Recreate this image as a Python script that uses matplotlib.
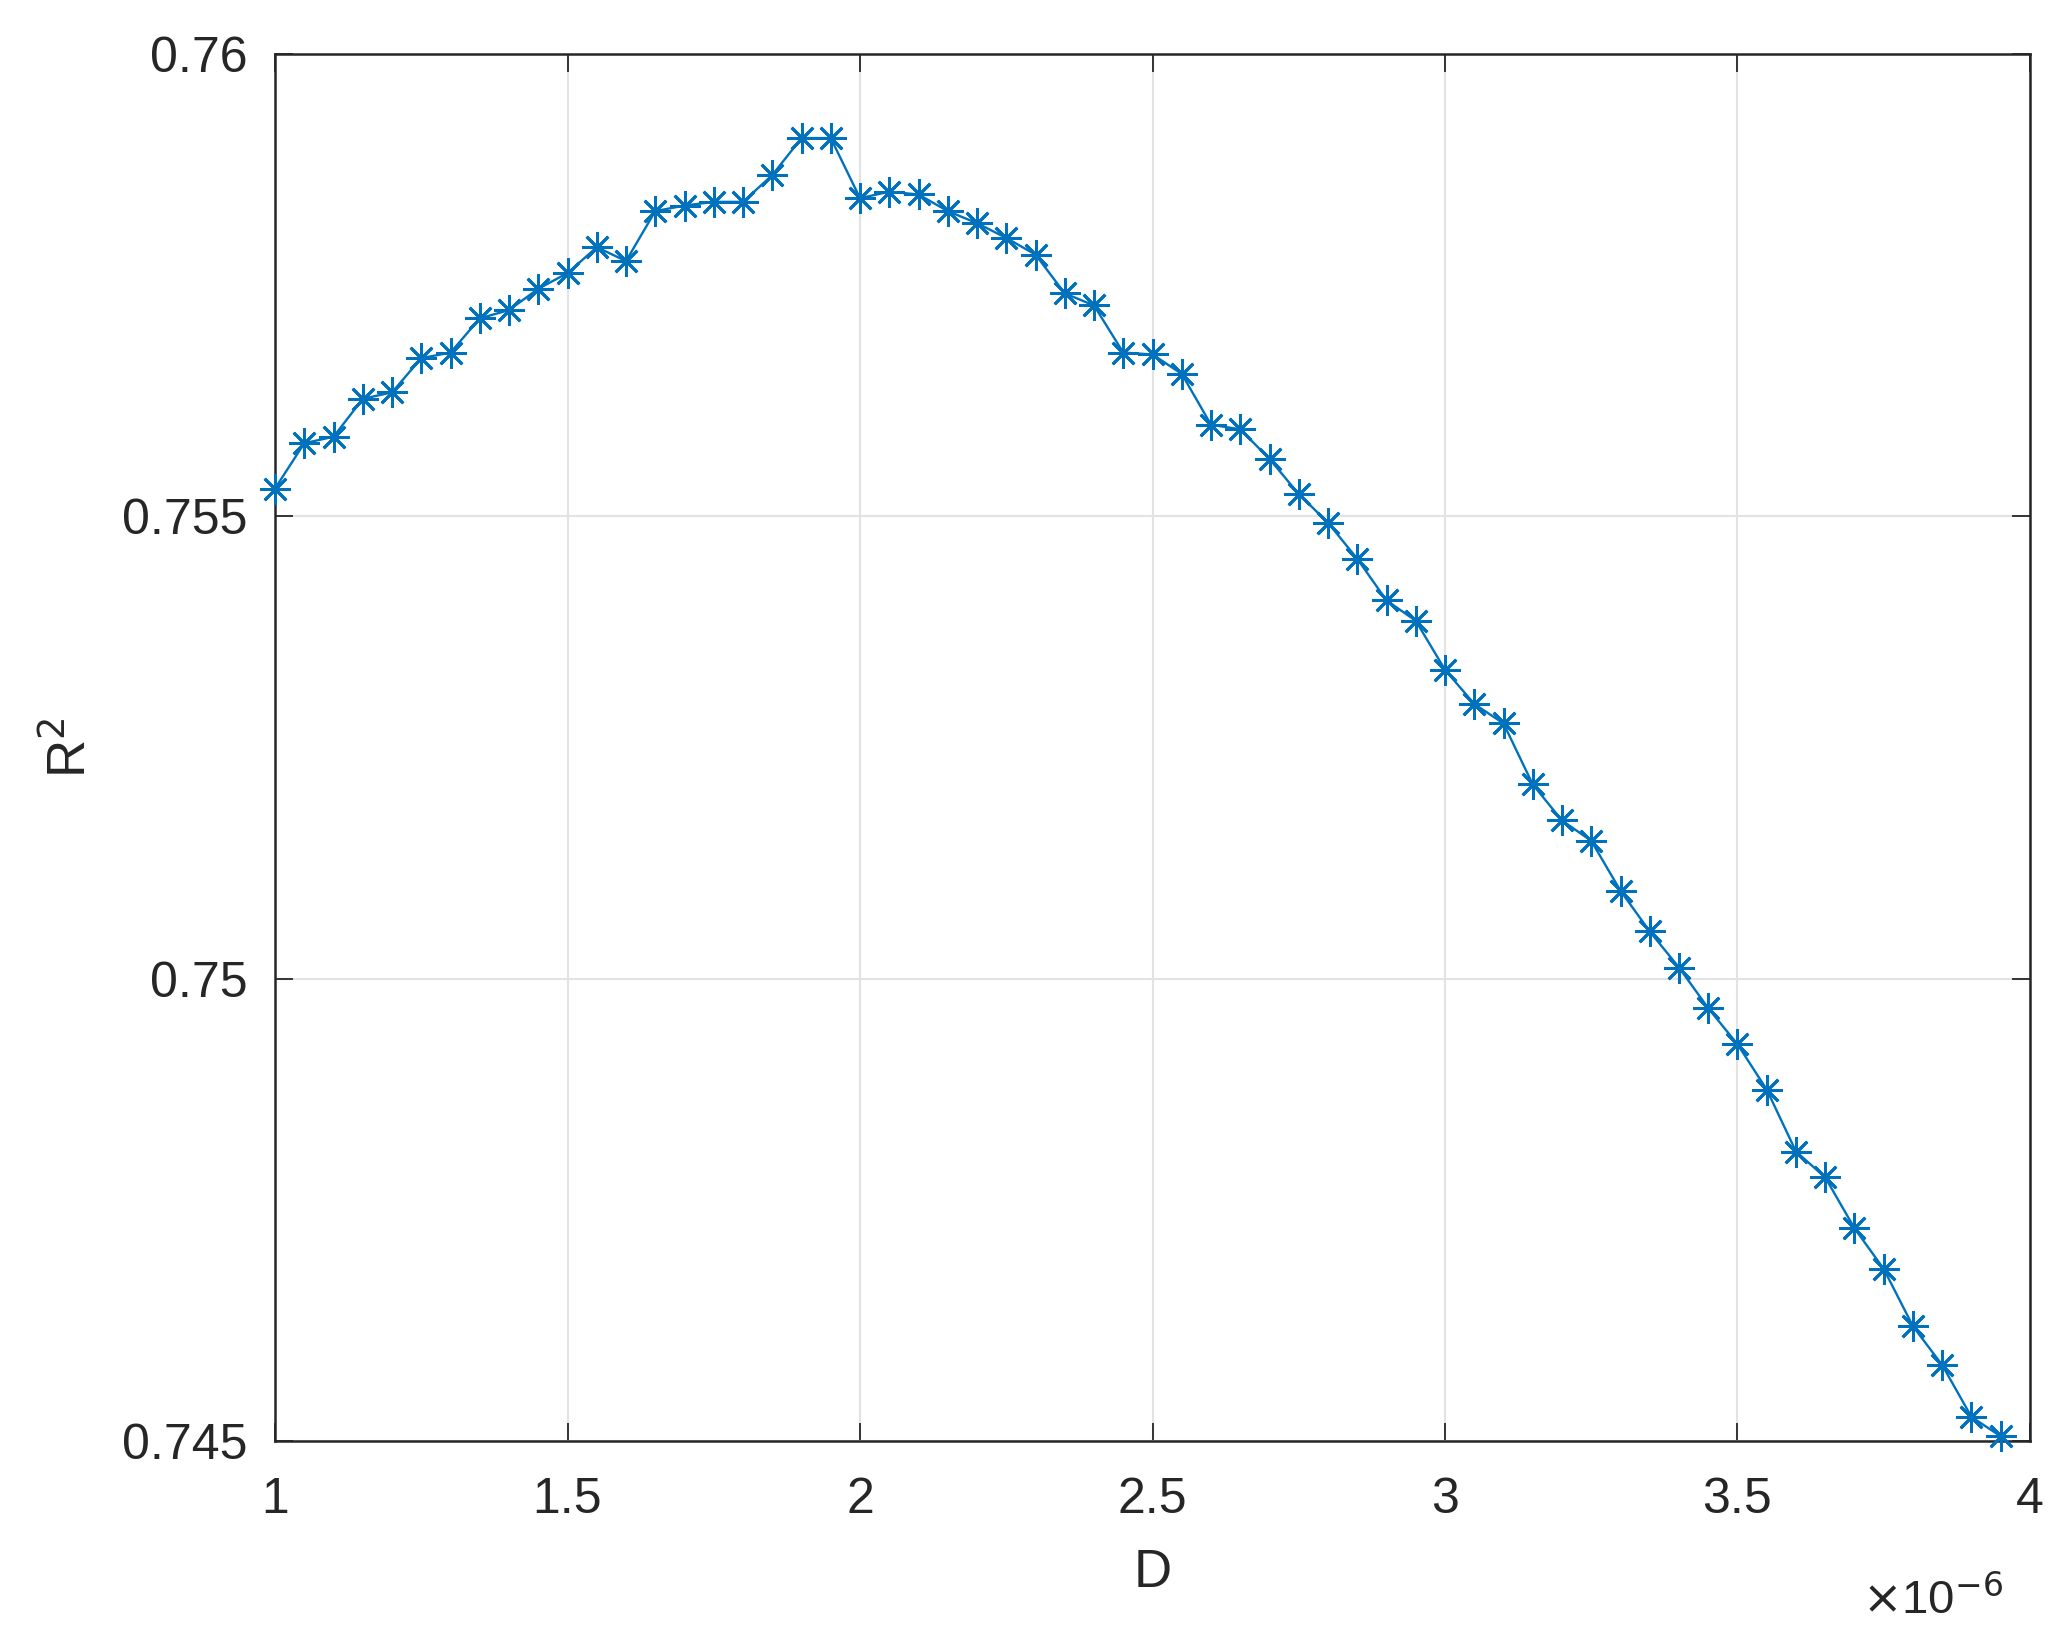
import matplotlib
matplotlib.use("Agg")
import matplotlib.pyplot as plt
from matplotlib.ticker import FuncFormatter, FixedLocator

# Data
D = [1.00, 1.05, 1.10, 1.15, 1.20, 1.25, 1.30, 1.35, 1.40, 1.45,
     1.50, 1.55, 1.60, 1.65, 1.70, 1.75, 1.80, 1.85, 1.90, 1.95,
     2.00, 2.05, 2.10, 2.15, 2.20, 2.25, 2.30, 2.35, 2.40, 2.45,
     2.50, 2.55, 2.60, 2.65, 2.70, 2.75, 2.80, 2.85, 2.90, 2.95,
     3.00, 3.05, 3.10, 3.15, 3.20, 3.25, 3.30, 3.35, 3.40, 3.45,
     3.50, 3.55, 3.60, 3.65, 3.70, 3.75, 3.80, 3.85, 3.90, 3.95]
D_scale = 1e-6
R2 = [0.75530, 0.75579, 0.75586, 0.75627, 0.75634, 0.75671, 0.75677, 0.75714, 0.75723, 0.75746,
      0.75763, 0.75791, 0.75776, 0.75830, 0.75836, 0.75840, 0.75840, 0.75869, 0.75909, 0.75909,
      0.75844, 0.75851, 0.75848, 0.75830, 0.75817, 0.75801, 0.75783, 0.75741, 0.75728, 0.75677,
      0.75675, 0.75654, 0.75599, 0.75594, 0.75562, 0.75524, 0.75493, 0.75454, 0.75409, 0.75387,
      0.75334, 0.75297, 0.75276, 0.75210, 0.75171, 0.75149, 0.75095, 0.75051, 0.75012, 0.74968,
      0.74929, 0.74880, 0.74813, 0.74785, 0.74730, 0.74686, 0.74624, 0.74582, 0.74526, 0.74505]
x_ticks = [1, 1.5, 2, 2.5, 3, 3.5, 4]
y_ticks = [0.745, 0.75, 0.755, 0.76]

plt.rcParams['font.family'] = ['Liberation Sans', 'DejaVu Sans']

fig = plt.figure(figsize=(20.71, 16.44), dpi=100)
ax = fig.add_axes([0.1328, 0.1235, 0.8474, 0.8437])

x = [d * D_scale for d in D]
ax.plot(x, R2, color='#0072BD', linewidth=1.7,
        marker=(8, 2, 0), markersize=22, markeredgewidth=2.0,
        markeredgecolor='#0072BD', clip_on=False, zorder=3)

ax.set_xlim(1 * D_scale, 4 * D_scale)
ax.set_ylim(0.745, 0.76)
ax.xaxis.set_major_locator(FixedLocator([t * D_scale for t in x_ticks]))
ax.xaxis.set_major_formatter(FuncFormatter(lambda v, p: '%g' % round(v / D_scale, 4)))
ax.yaxis.set_major_locator(FixedLocator(y_ticks))
ax.yaxis.set_major_formatter(FuncFormatter(lambda v, p: '%g' % round(v, 4)))

ax.grid(True, color='#e3e3e3', linewidth=1.5)
ax.set_axisbelow(True)
for s in ax.spines.values():
    s.set_color('#262626')
    s.set_linewidth(1.8)

ax.tick_params(axis='both', which='major', direction='in', length=13, width=1.3,
               colors='#262626', labelsize=36, top=True, right=True)
ax.tick_params(axis='x', pad=26)
ax.tick_params(axis='y', pad=20)

ax.set_xlabel('D', fontsize=38, color='#262626', labelpad=18)
ax.set_ylabel('R$^2$', fontsize=38, color='#262626', labelpad=18)

ax.text(0.985, -0.115, r'$\times$10$^{-6}$', transform=ax.transAxes,
        fontsize=34, color='#262626', ha='right', va='center')

fig.savefig('out.png', dpi=100, facecolor='white')
